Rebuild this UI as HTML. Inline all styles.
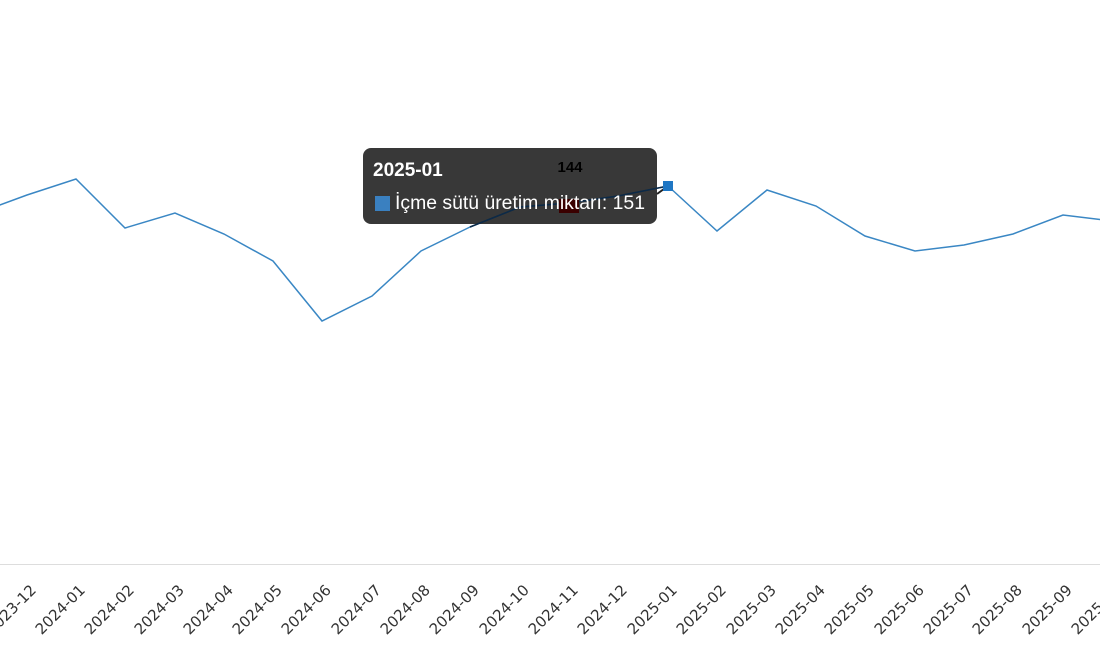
<!DOCTYPE html>
<html><head><meta charset="utf-8"><style>body{margin:0;background:#fff}svg{display:block}</style></head>
<body>
<svg width="1100" height="650" xmlns="http://www.w3.org/2000/svg" font-family="Liberation Sans, sans-serif">
<line x1="0" y1="564.5" x2="1100" y2="564.5" stroke="#ddd" stroke-width="1"/>
<polyline fill="none" stroke="#3a87c4" stroke-width="1.5" points="-22,213 27,195 76,179 125,228 175,213 224,234 273,261 322,321 372,296 421,251 470,227 520,207 569,203 618,196 668,186 717,231 767,190 816,206 865,236 915,251 964,245 1013,234 1063,215 1112,221"/>
<g font-size="15" fill="#333" font-family="DejaVu Sans, sans-serif">
<text transform="translate(37,591) rotate(-45)" text-anchor="end">2023-12</text>
<text transform="translate(86,591) rotate(-45)" text-anchor="end">2024-01</text>
<text transform="translate(135,591) rotate(-45)" text-anchor="end">2024-02</text>
<text transform="translate(185,591) rotate(-45)" text-anchor="end">2024-03</text>
<text transform="translate(234,591) rotate(-45)" text-anchor="end">2024-04</text>
<text transform="translate(283,591) rotate(-45)" text-anchor="end">2024-05</text>
<text transform="translate(332,591) rotate(-45)" text-anchor="end">2024-06</text>
<text transform="translate(382,591) rotate(-45)" text-anchor="end">2024-07</text>
<text transform="translate(431,591) rotate(-45)" text-anchor="end">2024-08</text>
<text transform="translate(480,591) rotate(-45)" text-anchor="end">2024-09</text>
<text transform="translate(530,591) rotate(-45)" text-anchor="end">2024-10</text>
<text transform="translate(579,591) rotate(-45)" text-anchor="end">2024-11</text>
<text transform="translate(628,591) rotate(-45)" text-anchor="end">2024-12</text>
<text transform="translate(678,591) rotate(-45)" text-anchor="end">2025-01</text>
<text transform="translate(727,591) rotate(-45)" text-anchor="end">2025-02</text>
<text transform="translate(777,591) rotate(-45)" text-anchor="end">2025-03</text>
<text transform="translate(826,591) rotate(-45)" text-anchor="end">2025-04</text>
<text transform="translate(875,591) rotate(-45)" text-anchor="end">2025-05</text>
<text transform="translate(925,591) rotate(-45)" text-anchor="end">2025-06</text>
<text transform="translate(974,591) rotate(-45)" text-anchor="end">2025-07</text>
<text transform="translate(1023,591) rotate(-45)" text-anchor="end">2025-08</text>
<text transform="translate(1073,591) rotate(-45)" text-anchor="end">2025-09</text>
<text transform="translate(1122,591) rotate(-45)" text-anchor="end">2025-10</text>
</g>
<rect x="363" y="148" width="294" height="76" rx="8" fill="#222" fill-opacity="0.9"/>
<polyline fill="none" stroke="#0c2a48" stroke-width="1.5" points="470,227 520,207 569,203 618,196 668,186"/>
<rect x="559" y="199" width="20" height="14" fill="#3a0000"/>
<text x="570" y="172" font-size="15" font-weight="bold" text-anchor="middle" fill="#000">144</text>
<line x1="657" y1="194" x2="668" y2="186" stroke="#222" stroke-width="2"/>
<rect x="663" y="181" width="10" height="10" fill="#1f77c4"/>
<text x="373" y="176" font-size="19" font-weight="bold" fill="#fff">2025-01</text>
<rect x="375" y="196" width="15" height="15" fill="#3a80c0"/>
<text x="395" y="209" font-size="19.4" fill="#fff">İçme sütü üretim miktarı: 151</text>
</svg>
</body></html>
